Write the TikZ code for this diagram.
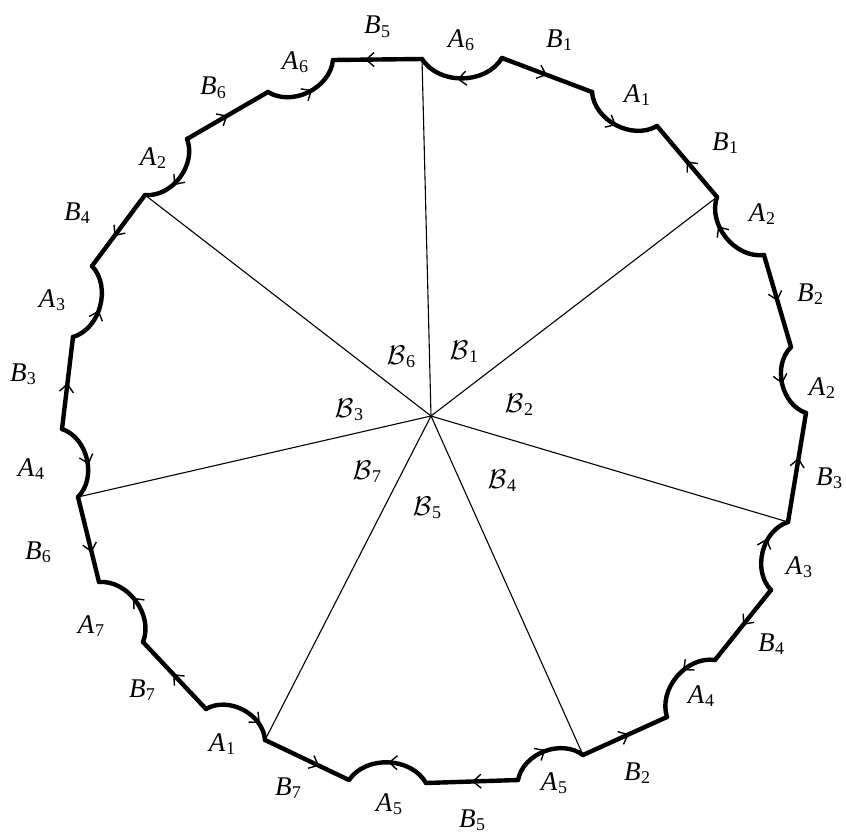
\RequirePackage{fix-cm}
\documentclass[tikz,border=0pt]{standalone}
\usepackage{fontspec}
\setmainfont{Liberation Serif}
\usetikzlibrary{arrows.meta,decorations.markings}
\newcommand{\lbl}[2]{\textit{#1}\kern0.5pt\raisebox{-0.13em}{\fontsize{18}{18}\selectfont #2}}
\newcommand{\clb}[2]{$\mathcal{#1}$\kern0.5pt\raisebox{-0.13em}{\fontsize{18}{18}\selectfont #2}}
\tikzset{
  bnd/.style={line width=4.4pt, line cap=round, line join=round},
  tipf/.style={postaction={decorate}, decoration={markings, mark=at position #1 with {\arrow[line width=1.4pt]{Straight Barb[length=8pt,width=14pt]}}}},
  tipb/.style={postaction={decorate}, decoration={markings, mark=at position #1 with {\arrow[line width=1.4pt]{Straight Barb[length=8pt,width=14pt,reversed]}}}},
  arcr/.style={bend right=58},
  spoke/.style={line width=1.1pt},
  lab/.style={font=\fontsize{27}{30}\selectfont, inner sep=0pt},
}
\begin{document}
\begin{tikzpicture}[x=1pt,y=-1pt]
\useasboundingbox (0,0) rectangle (846,835);
% boundary vertices
\coordinate (p1) at (422,59);
\coordinate (p2) at (502,58);
\coordinate (p3) at (592,92);
\coordinate (p4) at (657,126);
\coordinate (p5) at (717,197);
\coordinate (p6) at (764,255);
\coordinate (p7) at (791,347);
\coordinate (p8) at (806,413);
\coordinate (p9) at (788,522);
\coordinate (p10) at (771,590);
\coordinate (p11) at (715,660);
\coordinate (p12) at (667,717);
\coordinate (p13) at (583,755);
\coordinate (p14) at (518,780);
\coordinate (p15) at (426,783);
\coordinate (p16) at (349,780);
\coordinate (p17) at (265,740);
\coordinate (p18) at (206,709);
\coordinate (p19) at (143,642);
\coordinate (p20) at (99,582);
\coordinate (p21) at (78,497);
\coordinate (p22) at (62,429);
\coordinate (p23) at (73,337);
\coordinate (p24) at (92,266);
\coordinate (p25) at (145,195);
\coordinate (p26) at (187,139);
\coordinate (p27) at (268,92);
\coordinate (p28) at (333,60);
\coordinate (c) at (431,416);
% spokes
\foreach \k in {1,5,9,13,17,21,25} \draw[spoke] (c) -- (p\k);
% boundary
\draw[bnd,tipb=0.55] (p1) to[arcr] (p2);
\draw[bnd,tipf=0.5] (p2) -- (p3);
\draw[bnd,tipf=0.5] (p3) to[arcr] (p4);
\draw[bnd,tipb=0.6] (p4) -- (p5);
\draw[bnd,tipb=0.45] (p5) to[arcr] (p6);
\draw[bnd,tipf=0.5] (p6) -- (p7);
\draw[bnd,tipf=0.5] (p7) to[arcr] (p8);
\draw[bnd,tipb=0.5] (p8) -- (p9);
\draw[bnd,tipb=0.45] (p9) to[arcr] (p10);
\draw[bnd,tipf=0.5] (p10) -- (p11);
\draw[bnd,tipf=0.4] (p11) to[arcr] (p12);
\draw[bnd,tipb=0.56] (p12) -- (p13);
\draw[bnd,tipb=0.6] (p13) to[arcr] (p14);
\draw[bnd,tipf=0.5] (p14) -- (p15);
\draw[bnd,tipf=0.5] (p15) to[arcr] (p16);
\draw[bnd,tipb=0.46] (p16) -- (p17);
\draw[bnd,tipb=0.35] (p17) to[arcr] (p18);
\draw[bnd,tipf=0.52] (p18) -- (p19);
\draw[bnd,tipf=0.55] (p19) to[arcr] (p20);
\draw[bnd,tipb=0.46] (p20) -- (p21);
\draw[bnd,tipb=0.55] (p21) to[arcr] (p22);
\draw[bnd,tipf=0.5] (p22) -- (p23);
\draw[bnd,tipf=0.45] (p23) to[arcr] (p24);
\draw[bnd,tipb=0.53] (p24) -- (p25);
\draw[bnd,tipb=0.5] (p25) to[arcr] (p26);
\draw[bnd,tipf=0.5] (p26) -- (p27);
\draw[bnd,tipf=0.55] (p27) to[arcr] (p28);
\draw[bnd,tipb=0.47] (p28) -- (p1);
% edge labels
\node[lab] (l1) at (461,40) {\lbl{A}{6}};
\node[lab] (l2) at (559,40) {\lbl{B}{1}};
\node[lab] (l3) at (637,95) {\lbl{A}{1}};
\node[lab] (l4) at (725,143) {\lbl{B}{1}};
\node[lab] (l5) at (762,214) {\lbl{A}{2}};
\node[lab] (l6) at (810,294) {\lbl{B}{2}};
\node[lab] (l7) at (822,388) {\lbl{A}{2}};
\node[lab] (l8) at (829,478) {\lbl{B}{3}};
\node[lab] (l9) at (799,567) {\lbl{A}{3}};
\node[lab] (l10) at (771,644) {\lbl{B}{4}};
\node[lab] (l11) at (701,696) {\lbl{A}{4}};
\node[lab] (l12) at (637,773) {\lbl{B}{2}};
\node[lab] (l13) at (554,783) {\lbl{A}{5}};
\node[lab] (l14) at (472,820) {\lbl{B}{5}};
\node[lab] (l15) at (389,804) {\lbl{A}{5}};
\node[lab] (l16) at (288,788) {\lbl{B}{7}};
\node[lab] (l17) at (222,744) {\lbl{A}{1}};
\node[lab] (l18) at (142,690) {\lbl{B}{7}};
\node[lab] (l19) at (91,626) {\lbl{A}{7}};
\node[lab] (l20) at (38,552) {\lbl{B}{6}};
\node[lab] (l21) at (31,469) {\lbl{A}{4}};
\node[lab] (l22) at (23,374) {\lbl{B}{3}};
\node[lab] (l23) at (52,300) {\lbl{A}{3}};
\node[lab] (l24) at (77,213) {\lbl{B}{4}};
\node[lab] (l25) at (153,158) {\lbl{A}{2}};
\node[lab] (l26) at (213,88) {\lbl{B}{6}};
\node[lab] (l27) at (295,62) {\lbl{A}{6}};
\node[lab] (l28) at (377,27) {\lbl{B}{5}};
% region labels
\node[lab] (r1) at (464,352) {\clb{B}{1}};
\node[lab] (r6) at (401,357) {\clb{B}{6}};
\node[lab] (r2) at (519,405) {\clb{B}{2}};
\node[lab] (r3) at (349,410) {\clb{B}{3}};
\node[lab] (r7) at (367,472) {\clb{B}{7}};
\node[lab] (r4) at (502,481) {\clb{B}{4}};
\node[lab] (r5) at (427,508) {\clb{B}{5}};
\end{tikzpicture}
\end{document}
